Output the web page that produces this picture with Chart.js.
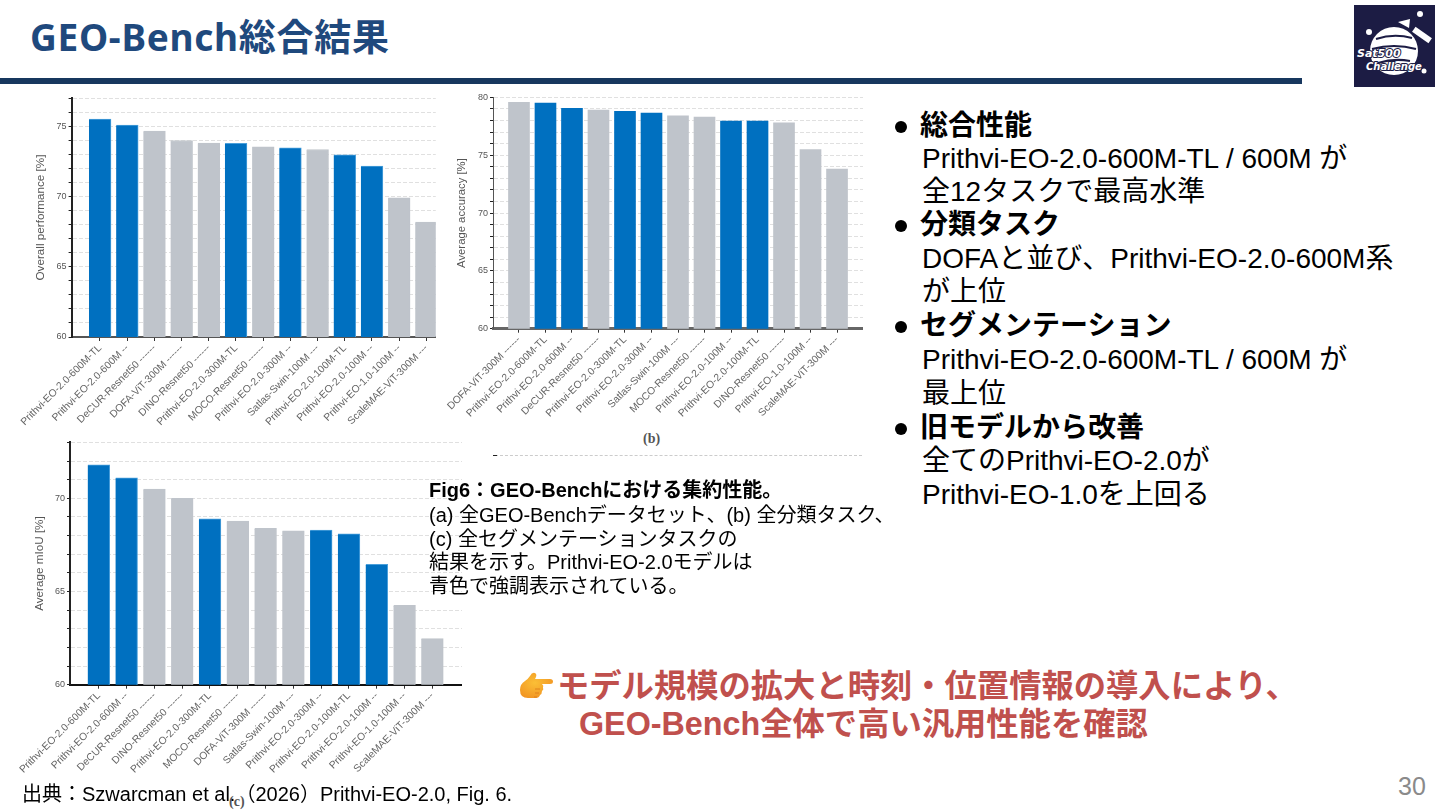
<!DOCTYPE html>
<html lang="ja">
<head>
<meta charset="utf-8">
<title>GEO-Bench総合結果</title>
<script src="https://cdn.jsdelivr.net/npm/chart.js@4"></script>
<style>
  html, body { margin: 0; padding: 0; background: #fff; }
  #slide { position: relative; width: 1440px; height: 810px; overflow: hidden; background: #fff;
           font-family: "Liberation Sans", "Noto Sans CJK JP", sans-serif; color: #000; }
  canvas { position: absolute; filter: blur(0.4px); }
  .t { position: absolute; white-space: pre; line-height: 30px; }
  .title { left: 30px; top: 14px; font: bold 37px/46px "Noto Sans", "Noto Sans CJK JP", sans-serif; letter-spacing: 0.7px; color: #1F497D; }
  .rule { position: absolute; left: 0; top: 78px; width: 1302px; height: 6px; background: #17375E; }
  .bul { font-size: 28px; left: 922px; }
  .bul.head { font-weight: bold; left: 920px; }
  .dot { position: absolute; left: 895px; width: 12px; height: 12px; border-radius: 50%; background: #000; }
  .cap { font-size: 20px; left: 429px; }
  .red { font-size: 32.3px; font-weight: bold; color: #C0504D; }
  .panel { font: bold 14px/14px "Liberation Serif", serif; color: #555; }
  .stray { position: absolute; left: 495px; top: 455px; width: 367px; border-top: 1px dashed #ccc; }
  .strayTick { position: absolute; left: 493px; top: 455px; width: 4px; height: 1px; background: #222; }
</style>
</head>
<body>
<div id="slide">
  <div class="t title">GEO-Bench総合結果</div>
  <div class="rule"></div>
  <svg style="position:absolute;left:1354px;top:5px" width="81" height="82" viewBox="0 0 81 82">
    <rect width="81" height="82" fill="#1C1C44"/>
    <circle cx="40" cy="46" r="24" fill="#fff"/>
    <path d="M22 34 q18 -6 36 -1 M18 44 q22 -6 44 0 M24 58 q16 -5 32 -2" stroke="#1C1C44" stroke-width="2" fill="none"/>
    <path d="M44 17 l12 -3 l-1 9 z" fill="#fff"/>
    <rect x="58" y="27" width="20" height="6" transform="rotate(35 68 30)" fill="#fff"/>
    <circle cx="66" cy="9" r="3" fill="#fff"/>
    <circle cx="15" cy="27" r="3" fill="#fff"/>
    <circle cx="70" cy="66" r="2.5" fill="#fff"/>
    <text x="3" y="52" font-family="DejaVu Sans" font-style="italic" font-weight="bold" font-size="11" fill="#fff" stroke="#1C1C44" stroke-width="2" paint-order="stroke">Sat500</text>
    <text x="12" y="65" font-family="DejaVu Sans" font-style="italic" font-weight="bold" font-size="10" fill="#fff" stroke="#1C1C44" stroke-width="2" paint-order="stroke">Challenge</text>
  </svg>

  <canvas id="chartA" width="432" height="345" style="left:4px;top:90px"></canvas>
  <canvas id="chartB" width="423" height="335" style="left:440px;top:90px"></canvas>
  <canvas id="chartC" width="457" height="355" style="left:5px;top:435px"></canvas>

  <div class="stray"></div>
  <div class="strayTick"></div>
  <div class="t panel" style="left:643px;top:432px">(b)</div>
  <div class="t panel" style="left:229px;top:795px">(c)</div>

  <div class="dot" style="top:121px"></div>
  <div class="t bul head" style="top:111px">総合性能</div>
  <div class="t bul" style="top:144px">Prithvi-EO-2.0-600M-TL / 600M が</div>
  <div class="t bul" style="top:177px">全12タスクで最高水準</div>
  <div class="dot" style="top:220px"></div>
  <div class="t bul head" style="top:210px">分類タスク</div>
  <div class="t bul" style="top:244px">DOFAと並び、Prithvi-EO-2.0-600M系</div>
  <div class="t bul" style="top:277px">が上位</div>
  <div class="dot" style="top:321px"></div>
  <div class="t bul head" style="top:311px">セグメンテーション</div>
  <div class="t bul" style="top:345px">Prithvi-EO-2.0-600M-TL / 600M が</div>
  <div class="t bul" style="top:379px">最上位</div>
  <div class="dot" style="top:423px"></div>
  <div class="t bul head" style="top:413px">旧モデルから改善</div>
  <div class="t bul" style="top:446px">全てのPrithvi-EO-2.0が</div>
  <div class="t bul" style="top:480px">Prithvi-EO-1.0を上回る</div>

  <div class="t cap" style="top:475px;font-weight:bold">Fig6：GEO-Benchにおける集約性能。</div>
  <div class="t cap" style="top:500px">(a) 全GEO-Benchデータセット、(b) 全分類タスク、</div>
  <div class="t cap" style="top:524px">(c) 全セグメンテーションタスクの</div>
  <div class="t cap" style="top:547px">結果を示す。Prithvi-EO-2.0モデルは</div>
  <div class="t cap" style="top:571px">青色で強調表示されている。</div>

  <svg style="position:absolute;left:519px;top:672px" width="36" height="30" viewBox="0 0 36 30">
    <defs>
      <radialGradient id="skin" cx="0.45" cy="0.4" r="0.8">
        <stop offset="0" stop-color="#FBBF36"/>
        <stop offset="1" stop-color="#EF8A1E"/>
      </radialGradient>
    </defs>
    <path d="M1 18 q0 -6 5 -9 q3 -2 5 -5 q2 -4 5 -3 q2 1 1 4 l-1 2 h15 q3 0 3 2.500 q0 2.500 -3 2.500 h-8 q2 1.500 1 3.500 q1 2 -1 3.500 q0 3 -2 4 q-1 3 -4 3 h-8 q-8 0 -8 -8 z" fill="url(#skin)"/>
    <path d="M21 17 h-5 M20 21 h-4 M18 25 h-3" stroke="#D9781A" stroke-width="0.8" fill="none"/>
  </svg>
  <div class="t red" style="left:557px;top:671px">モデル規模の拡大と時刻・位置情報の導入により、</div>
  <div class="t red" style="left:579px;top:709px">GEO-Bench全体で高い汎用性能を確認</div>

  <div class="t" style="left:22px;top:779px;font-size:20px">出典：Szwarcman et al.（2026）Prithvi-EO-2.0, Fig. 6.</div>
  <div class="t" style="left:1398px;top:771px;font-size:25px;color:#8a8a8a">30</div>
</div>

<script>
const labelsA = ["Prithvi-EO-2.0-600M-TL", "Prithvi-EO-2.0-600M --", "DeCUR-Resnet50 ------", "DOFA-ViT-300M ------", "DINO-Resnet50 ------", "Prithvi-EO-2.0-300M-TL", "MOCO-Resnet50 ------", "Prithvi-EO-2.0-300M --", "Satlas-Swin-100M ---", "Prithvi-EO-2.0-100M-TL", "Prithvi-EO-2.0-100M --", "Prithvi-EO-1.0-100M --", "ScaleMAE-ViT-300M ---"];
const valuesA = [75.5, 75.07, 74.65, 73.98, 73.8, 73.77, 73.53, 73.46, 73.34, 72.96, 72.15, 69.9, 68.17];
const isPrithviA = [1, 1, 0, 0, 0, 1, 0, 1, 0, 1, 1, 0, 0];

const labelsB = ["DOFA-ViT-300M ------", "Prithvi-EO-2.0-600M-TL", "Prithvi-EO-2.0-600M --", "DeCUR-Resnet50 ------", "Prithvi-EO-2.0-300M-TL", "Prithvi-EO-2.0-300M --", "Satlas-Swin-100M ---", "MOCO-Resnet50 ------", "Prithvi-EO-2.0-100M --", "Prithvi-EO-2.0-100M-TL", "DINO-Resnet50 ------", "Prithvi-EO-1.0-100M --", "ScaleMAE-ViT-300M ---"];
const valuesB = [79.57, 79.5, 79.05, 78.9, 78.8, 78.65, 78.4, 78.3, 77.95, 77.95, 77.8, 75.48, 73.8];
const isPrithviB = [0, 1, 1, 0, 1, 1, 0, 0, 1, 1, 0, 0, 0];

const labelsC = ["Prithvi-EO-2.0-600M-TL", "Prithvi-EO-2.0-600M --", "DeCUR-Resnet50 ------", "DINO-Resnet50 ------", "Prithvi-EO-2.0-300M-TL", "MOCO-Resnet50 ------", "DOFA-ViT-300M ------", "Satlas-Swin-100M ---", "Prithvi-EO-2.0-300M --", "Prithvi-EO-2.0-100M-TL", "Prithvi-EO-2.0-100M --", "Prithvi-EO-1.0-100M --", "ScaleMAE-ViT-300M ---"];
const valuesC = [71.79, 71.1, 70.5, 70.0, 68.9, 68.78, 68.39, 68.26, 68.3, 68.1, 66.46, 64.26, 62.47];
const isPrithviC = [1, 1, 0, 0, 1, 0, 0, 0, 1, 1, 1, 0, 0];

const BLUE = "#0070C0";
const GREY = "#BFC4CB";

function drawBars(id, labels, values, isPrithvi, cfg) {
  new Chart(document.getElementById(id), {
    type: "bar",
    data: {
      datasets: [{
        data: values.map((v, i) => ({ x: i, y: v })),
        backgroundColor: isPrithvi.map(p => (p ? BLUE : GREY)),
        borderColor: isPrithvi.map(p => (p ? "#4a9fda" : GREY)),
        borderWidth: cfg.edge ? { top: 1, right: 1 } : 0,
        barThickness: cfg.barWidth,
      }],
    },
    options: {
      responsive: false,
      animation: false,
      layout: { autoPadding: false, padding: { top: cfg.top } },
      plugins: { legend: { display: false }, tooltip: { enabled: false } },
      scales: {
        x: {
          type: "linear",
          offset: false,
          min: cfg.xMin,
          max: cfg.xMax,
          afterBuildTicks: s => { s.ticks = labels.map((_, i) => ({ value: i })); },
          afterFit: s => { s.height = cfg.bottom; },
          grid: { offset: false, drawOnChartArea: false, tickLength: 4, tickColor: "#333" },
          border: { color: cfg.baseColor, width: cfg.baseWidth },
          ticks: {
            autoSkip: false,
            minRotation: 45,
            maxRotation: 45,
            padding: 1,
            color: "#666",
            font: { family: "Liberation Sans", size: 10.3 },
            callback: v => labels[v],
          },
        },
        y: {
          min: 60,
          max: cfg.yMax,
          afterFit: s => { s.width = cfg.axisLeft; },
          grid: { color: "#e0e0e0", tickColor: "#222", tickLength: 3 },
          border: { color: cfg.spineColor, width: cfg.spineWidth, dash: [4, 2] },
          title: {
            display: true,
            text: cfg.yTitle,
            color: "#555",
            font: { family: "Liberation Sans", size: cfg.titleSize },
            padding: { top: cfg.titlePad, bottom: 0 },
          },
          ticks: {
            stepSize: 1,
            autoSkip: false,
            padding: 2,
            color: "#555",
            font: { family: "Liberation Sans", size: 9 },
            callback: v => (v % 5 === 0 ? v : ""),
          },
        },
      },
    },
  });
}

drawBars("chartA", labelsA, valuesA, isPrithviA, {
  barWidth: 22, top: 8, bottom: 98, axisLeft: 67.6, xMin: -1.044, xMax: 12.35, yMax: 77,
  yTitle: "Overall performance [%]", titleSize: 11.7, titlePad: 30, edge: true,
  baseColor: "#555", baseWidth: 2, spineColor: "#222", spineWidth: 2,
});
drawBars("chartB", labelsB, valuesB, isPrithviB, {
  barWidth: 21, top: 7.3, bottom: 96.3, axisLeft: 53, xMin: -0.98, xMax: 12.98, yMax: 80,
  yTitle: "Average accuracy [%]", titleSize: 11.3, titlePad: 15, edge: false,
  baseColor: "#666", baseWidth: 3, spineColor: "#555", spineWidth: 1,
});
drawBars("chartC", labelsC, valuesC, isPrithviC, {
  barWidth: 22, top: 6.7, bottom: 105.3, axisLeft: 65, xMin: -1.033, xMax: 13.07, yMax: 73,
  yTitle: "Average mIoU [%]", titleSize: 11.7, titlePad: 28, edge: true,
  baseColor: "#111", baseWidth: 2, spineColor: "#222", spineWidth: 2,
});
</script>
</body>
</html>
